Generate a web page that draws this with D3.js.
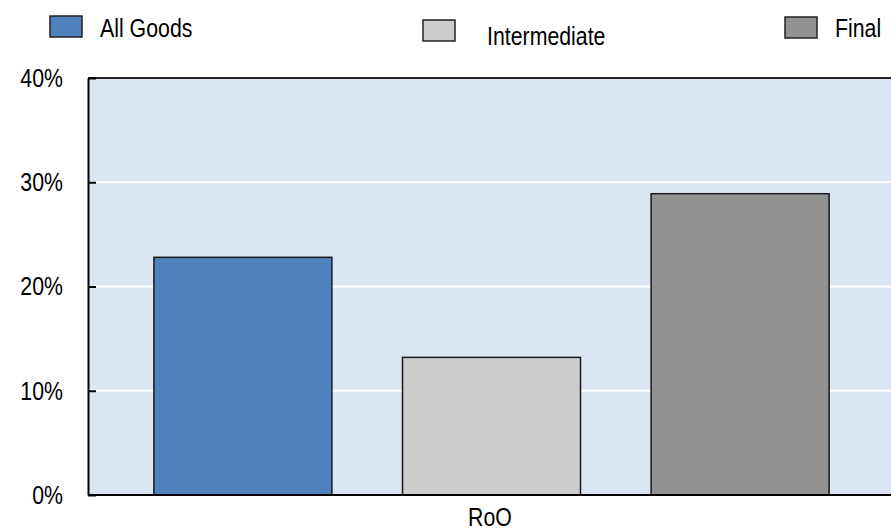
<!DOCTYPE html>
<html>
<head>
<meta charset="utf-8">
<script src="https://cdn.jsdelivr.net/npm/d3@7/dist/d3.min.js"></script>
<style>
  html, body { margin: 0; padding: 0; background: #ffffff; }
  svg { display: block; }
  text { font-family: "Liberation Sans", Arial, sans-serif; fill: #000; }
</style>
</head>
<body>
<svg id="chart" width="891" height="529"></svg>
<script>
const categories = ["RoO"];
const seriesNames = ["All Goods", "Intermediate", "Final"];
const seriesValues = [0.228, 0.132, 0.289];
const seriesColors = ["#4F81BD", "#CCCCCC", "#929292"];
const yTicks = [0, 0.1, 0.2, 0.3, 0.4];

const svg = d3.select("#chart");
const plot = { left: 88, right: 891, top: 78, bottom: 495 };
const FONT = '"Liberation Sans", Arial, sans-serif';
const K = 0.82; // horizontal condensing to mimic a narrow face

function condense(sel) {
  sel.each(function () {
    const t = d3.select(this);
    const x = +(t.attr("x") || 0);
    t.attr("x", x / K).attr("transform", `scale(${K},1)`);
  });
}

const y = d3.scaleLinear().domain([0, 0.4]).range([plot.bottom, plot.top]);
const x0 = d3.scaleBand().domain(categories).range([90, 893]).paddingInner(0).paddingOuter(0);
const x1 = d3.scaleBand().domain(seriesNames).range([0, x0.bandwidth()]).paddingInner(0.284).paddingOuter(0.257);

// plot background
svg.append("rect")
  .attr("x", plot.left).attr("y", plot.top)
  .attr("width", plot.right - plot.left).attr("height", plot.bottom - plot.top)
  .attr("fill", "#DCE6F2");

// gridlines
svg.append("g").selectAll("line")
  .data(yTicks.filter(d => d > 0 && d < 0.4))
  .join("line")
  .attr("x1", plot.left).attr("x2", plot.right)
  .attr("y1", d => y(d)).attr("y2", d => y(d))
  .attr("stroke", "#ffffff").attr("stroke-width", 2);

// bars
const data = seriesNames.map((s, i) => ({ cat: categories[0], series: s, value: seriesValues[i], color: seriesColors[i] }));
svg.append("g").selectAll("rect")
  .data(data)
  .join("rect")
  .attr("x", d => x0(d.cat) + x1(d.series))
  .attr("y", d => y(d.value))
  .attr("width", x1.bandwidth())
  .attr("height", d => y(0) - y(d.value))
  .attr("fill", d => d.color)
  .attr("stroke", "#1a1a1a")
  .attr("stroke-width", 1.5);

// top border
svg.append("line")
  .attr("x1", plot.left).attr("x2", plot.right)
  .attr("y1", plot.top).attr("y2", plot.top)
  .attr("stroke", "#222").attr("stroke-width", 2);

// y axis
const yAxis = d3.axisLeft(y)
  .tickValues(yTicks)
  .tickFormat(d3.format(".0%"))
  .tickSizeInner(-8)
  .tickSizeOuter(0)
  .tickPadding(25);
const gy = svg.append("g").attr("transform", `translate(${plot.left},0)`).call(yAxis);
gy.select(".domain").attr("stroke", "#000").attr("stroke-width", 2);
gy.selectAll(".tick line").attr("stroke", "#000").attr("stroke-width", 2);
gy.selectAll(".tick text")
  .attr("font-size", 26)
  .attr("fill", "#000")
  .style("font-family", FONT)
  .call(condense);

// x axis
const xAxis = d3.axisBottom(x0).tickSize(0).tickPadding(13);
const gx = svg.append("g").attr("transform", `translate(0,${plot.bottom})`).call(xAxis);
gx.select(".domain").attr("stroke", "#000").attr("stroke-width", 2)
  .attr("d", `M${plot.left},0H${plot.right}`);
gx.selectAll(".tick").attr("transform", d => `translate(${x0(d) + x0.bandwidth() / 2 - 1.5},0)`);
gx.selectAll(".tick text")
  .attr("font-size", 26)
  .attr("fill", "#000")
  .style("font-family", FONT)
  .call(condense);

// legend
const legendPos = [
  { sx: 50, sy: 16, tx: 100, ty: 37 },
  { sx: 423, sy: 20, tx: 487, ty: 45 },
  { sx: 785, sy: 17, tx: 835, ty: 37 }
];
const lg = svg.append("g").selectAll("g")
  .data(data)
  .join("g");
lg.append("rect")
  .attr("x", (d, i) => legendPos[i].sx)
  .attr("y", (d, i) => legendPos[i].sy)
  .attr("width", 32).attr("height", 21)
  .attr("fill", d => d.color)
  .attr("stroke", "#222").attr("stroke-width", 1.5);
lg.append("text")
  .attr("x", (d, i) => legendPos[i].tx)
  .attr("y", (d, i) => legendPos[i].ty)
  .attr("font-size", 26)
  .style("font-family", FONT)
  .text(d => d.series)
  .call(condense);
</script>
</body>
</html>
